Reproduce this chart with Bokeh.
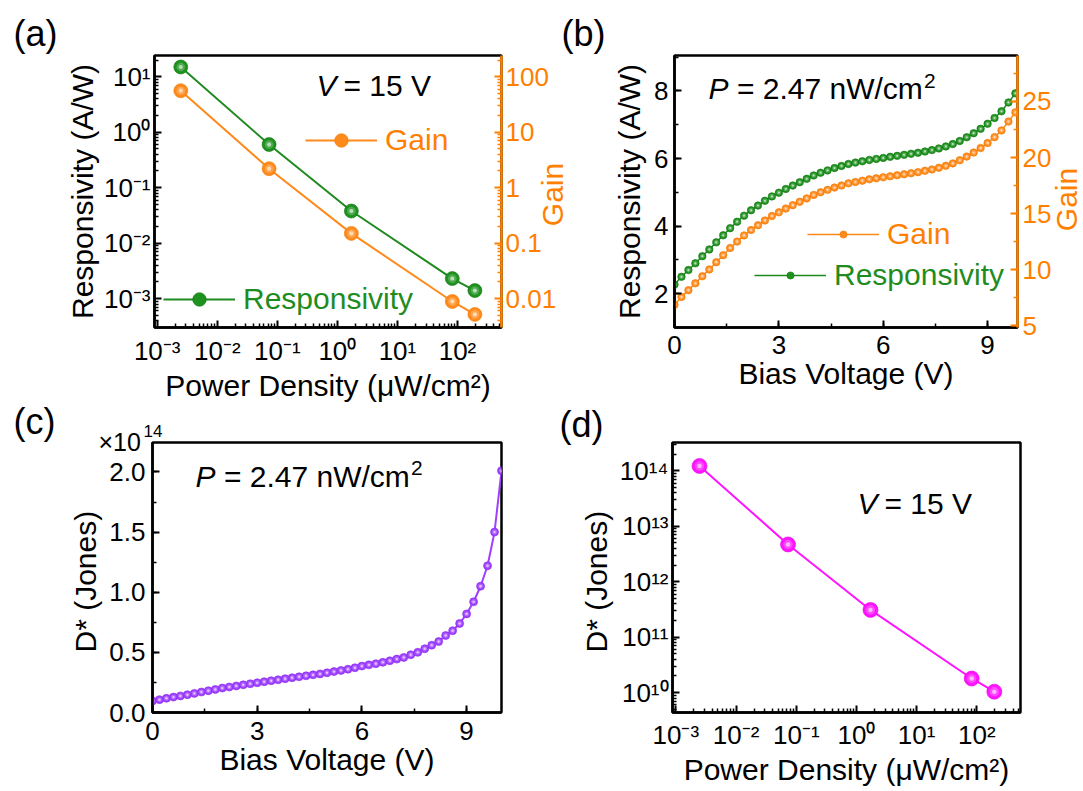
from bokeh.plotting import figure
from bokeh.models import (Range1d, LogScale, LogAxis, LinearAxis, FixedTicker,
                          SingleIntervalTicker, Label, Legend, LegendItem,
                          PrintfTickFormatter)
from bokeh.layouts import row, column
from bokeh.embed import file_html
from bokeh.resources import INLINE

# ------------------------------------------------------------------ data
# panels (a) and (d): V = 15 V, power-density sweep
power_density = [0.00247, 0.073, 1.71, 82.0, 195.0]          # uW/cm^2
responsivity_a = [15.0, 0.60, 0.038, 0.0023, 0.0014]          # A/W
gain_a = [56.0, 2.2, 0.15, 0.0089, 0.0052]
dstar_d = [1.22e14, 4.7e12, 3.1e11, 1.8e10, 1.04e10]         # Jones

# panels (b) and (c): P = 2.47 nW/cm^2, bias sweep
bias_voltage = [0.0, 0.2, 0.4, 0.6, 0.8, 1.0, 1.2, 1.4, 1.6, 1.8,
                2.0, 2.2, 2.4, 2.6, 2.8, 3.0, 3.2, 3.4, 3.6, 3.8,
                4.0, 4.2, 4.4, 4.6, 4.8, 5.0, 5.2, 5.4, 5.6, 5.8,
                6.0, 6.2, 6.4, 6.6, 6.8, 7.0, 7.2, 7.4, 7.6, 7.8,
                8.0, 8.2, 8.4, 8.6, 8.8, 9.0, 9.2, 9.4, 9.6, 9.8, 10.0]
responsivity_b = [2.27, 2.50, 2.70, 2.90, 3.11, 3.31, 3.52, 3.73, 3.94, 4.13,
                  4.31, 4.47, 4.61, 4.75, 4.88, 4.99, 5.10, 5.20, 5.30, 5.40,
                  5.50, 5.58, 5.65, 5.72, 5.78, 5.84, 5.88, 5.92, 5.96, 5.99,
                  6.02, 6.05, 6.08, 6.11, 6.14, 6.17, 6.21, 6.25, 6.30, 6.36,
                  6.43, 6.52, 6.63, 6.75, 6.88, 7.03, 7.20, 7.40, 7.66, 7.93, 8.25]
gain_b = [6.88, 7.58, 8.18, 8.79, 9.42, 10.03, 10.67, 11.30, 11.94, 12.51,
          13.06, 13.54, 13.97, 14.39, 14.79, 15.12, 15.45, 15.76, 16.06, 16.36,
          16.67, 16.91, 17.12, 17.33, 17.51, 17.70, 17.82, 17.94, 18.06, 18.15,
          18.24, 18.33, 18.42, 18.51, 18.60, 18.70, 18.82, 18.94, 19.09, 19.27,
          19.48, 19.76, 20.09, 20.45, 20.85, 21.30, 21.82, 22.42, 23.21, 24.03, 25.0]
dstar_c_e14 = [0.096, 0.107, 0.118, 0.128, 0.138, 0.148, 0.159, 0.170, 0.181, 0.192,
               0.203, 0.212, 0.221, 0.230, 0.239, 0.247, 0.256, 0.264, 0.272, 0.281,
               0.289, 0.297, 0.305, 0.313, 0.321, 0.330, 0.340, 0.350, 0.360, 0.372,
               0.386, 0.396, 0.406, 0.417, 0.430, 0.444, 0.458, 0.480, 0.500, 0.530,
               0.560, 0.590, 0.640, 0.680, 0.740, 0.820, 0.920, 1.050, 1.220, 1.500, 2.010]

# tick values / labels
power_ticks = [0.001, 0.01, 0.1, 1.0, 10.0, 100.0]
power_tick_labels = ["10\u207b\u00b3", "10\u207b\u00b2", "10\u207b\u00b9", "10\u2070", "10\u00b9", "10\u00b2"]
resp_ticks = [0.001, 0.01, 0.1, 1.0, 10.0]
resp_tick_labels = ["10\u207b\u00b3", "10\u207b\u00b2", "10\u207b\u00b9", "10\u2070", "10\u00b9"]
gain_ticks = [0.01, 0.1, 1.0, 10.0, 100.0]
gain_tick_labels = ["0.01", "0.1", "1", "10", "100"]
dstar_ticks = [1e10, 1e11, 1e12, 1e13, 1e14]
dstar_tick_labels = ["10\u00b9\u2070", "10\u00b9\u00b9", "10\u00b9\u00b2", "10\u00b9\u00b3", "10\u00b9\u2074"]

# ------------------------------------------------------------------ style
FONT = "Liberation Sans"
TICK_FS = "26px"
LABEL_FS = "30px"
NOTE_FS = "30px"
SUP_FS = "21px"
PANEL_FS = "36px"
BLACK = "black"
GREEN_LINE, GREEN_BALL, GREEN_EDGE, GREEN_TEXT = "#1f8a1f", "#1e921e", "#127512", "#1f8c1f"
ORANGE_LINE, ORANGE_BALL, ORANGE_EDGE, ORANGE_AX = "#ff8a1c", "#ff8a1c", "#f07800", "#ff8000"
PURPLE, PURPLE_EDGE = "#9e3fff", "#8a2cf0"
MAGENTA, MAGENTA_EDGE = "#ff14ff", "#e000e0"

W, H = 1083, 788


def minor_of(ticks):
    base = [ticks[0] / 10.0] + list(ticks)
    return [m * t for t in base for m in range(2, 10)]


def style_axis(ax, color=BLACK, tick_standoff=5, label_standoff=4):
    ax.axis_line_color = color
    ax.axis_line_width = 2.5
    ax.major_tick_line_color = color
    ax.major_tick_line_width = 2
    ax.minor_tick_line_color = color
    ax.minor_tick_line_width = 1.5
    ax.major_tick_in = 7
    ax.major_tick_out = 0
    ax.minor_tick_in = 4
    ax.minor_tick_out = 0
    ax.major_label_text_font = FONT
    ax.major_label_text_font_size = TICK_FS
    ax.major_label_text_color = color
    ax.major_label_standoff = tick_standoff
    ax.axis_label_text_font = FONT
    ax.axis_label_text_font_size = LABEL_FS
    ax.axis_label_text_font_style = "normal"
    ax.axis_label_text_color = color
    ax.axis_label_standoff = label_standoff


def make_fig(width, height, borders, x_range, y_range, x_type="linear", y_type="linear"):
    left, right, top, bottom = borders
    p = figure(width=width, height=height, x_range=x_range, y_range=y_range,
               x_axis_type=x_type, y_axis_type=y_type, output_backend="svg",
               toolbar_location=None, min_border_left=left, min_border_right=right,
               min_border_top=top, min_border_bottom=bottom)
    p.xgrid.visible = False
    p.ygrid.visible = False
    p.outline_line_color = BLACK
    p.outline_line_width = 2.5
    p.background_fill_color = "white"
    p.border_fill_color = "white"
    return p


def balls(p, x, y, fill, edge, size, **kw):
    # shaded "sphere" markers: base disc + soft lighter core + small highlight
    r = p.scatter(x, y, marker="circle", size=size, fill_color=fill,
                  line_color=edge, line_width=0.6, **kw)
    p.scatter(x, y, marker="circle", size=size * 0.62, fill_color="white",
              fill_alpha=0.22, line_alpha=0, **kw)
    p.scatter(x, y, marker="circle", size=size * 0.3, fill_color="white",
              fill_alpha=0.6, line_alpha=0, **kw)
    return r


def add_text(p, x, y, text, size=NOTE_FS, style="normal", color=BLACK, angle=0,
             align="left"):
    # y is the vertical middle of the text (screen units, from the frame bottom)
    p.add_layout(Label(x=x, y=y, x_units="screen", y_units="screen", text=text,
                       text_font=FONT, text_font_size=size, text_font_style=style,
                       text_color=color, angle=angle, angle_units="deg",
                       text_align=align, text_baseline="middle"))


def add_legend(p, label, renderers, loc, color, gh):
    leg = Legend(items=[LegendItem(label=label, renderers=renderers)], location=loc,
                 orientation="vertical", glyph_width=72, glyph_height=gh, label_height=gh,
                 label_standoff=8, padding=0, margin=0, spacing=0,
                 background_fill_alpha=0, border_line_alpha=0,
                 label_text_font=FONT, label_text_font_size=LABEL_FS,
                 label_text_color=color)
    p.add_layout(leg)


def power_note(p, x, y_mid, y_sup):
    add_text(p, x, y_mid, "P", style="italic")
    add_text(p, x + 28.4, y_mid, "= 2.47 nW/cm")
    add_text(p, x + 28.4 + 187, y_sup, "2", size=SUP_FS)


def volt_note(p, x, y_mid):
    add_text(p, x, y_mid, "V", style="italic")
    add_text(p, x + 27, y_mid, "= 15 V")


# ------------------------------------------------------------------ (a)
pa = make_fig(610, 404, (154, 109, 55, 72),
              Range1d(10 ** -3.045, 10 ** 2.733), Range1d(10 ** -3.52, 10 ** 1.383),
              "log", "log")
pa.extra_y_ranges = {"gain": Range1d(10 ** -2.52, 10 ** 2.383)}
pa.extra_y_scales = {"gain": LogScale()}
ax = pa.xaxis[0]
ax.ticker = FixedTicker(ticks=power_ticks, minor_ticks=minor_of(power_ticks))
ax.major_label_overrides = dict(zip(power_ticks, power_tick_labels))
ax.axis_label = "Power Density (\u03bcW/cm\u00b2)"
style_axis(ax, tick_standoff=8, label_standoff=0)
ay = pa.yaxis[0]
ay.ticker = FixedTicker(ticks=resp_ticks, minor_ticks=minor_of(resp_ticks))
ay.major_label_overrides = dict(zip(resp_ticks, resp_tick_labels))
ay.axis_label = "Responsivity (A/W)"
style_axis(ay, tick_standoff=4, label_standoff=2)
gax = LogAxis(y_range_name="gain",
              ticker=FixedTicker(ticks=gain_ticks, minor_ticks=minor_of(gain_ticks)))
gax.major_label_overrides = dict(zip(gain_ticks, gain_tick_labels))
style_axis(gax, ORANGE_AX, tick_standoff=4)
pa.add_layout(gax, "right")

ra_line = pa.line(power_density, responsivity_a, line_color=GREEN_LINE, line_width=2)
ra_pts = balls(pa, power_density, responsivity_a, GREEN_BALL, GREEN_EDGE, 14)
ga_line = pa.line(power_density, gain_a, line_color=ORANGE_LINE, line_width=2,
                  y_range_name="gain")
ga_pts = balls(pa, power_density, gain_a, ORANGE_BALL, ORANGE_EDGE, 14,
               y_range_name="gain")
add_legend(pa, "Gain", [ga_line, ga_pts], (151, 170), ORANGE_AX, 34)
add_legend(pa, "Responsivity", [ra_line, ra_pts], (9, 11), GREEN_TEXT, 34)
volt_note(pa, 162, 242.5)

# ------------------------------------------------------------------ (b)
pb = make_fig(473, 404, (62, 66, 53, 74), Range1d(0, 9.86), Range1d(1, 9.05))
pb.extra_y_ranges = {"gain": Range1d(4.85, 29.1)}
bx = pb.xaxis[0]
bx.ticker = SingleIntervalTicker(interval=3, num_minor_ticks=2)
bx.axis_label = "Bias Voltage (V)"
style_axis(bx, tick_standoff=8, label_standoff=0)
by = pb.yaxis[0]
by.ticker = SingleIntervalTicker(interval=2, num_minor_ticks=2)
by.axis_label = "Responsivity (A/W)"
style_axis(by, tick_standoff=6, label_standoff=5)
gbx = LinearAxis(y_range_name="gain", ticker=SingleIntervalTicker(interval=5, num_minor_ticks=2))
style_axis(gbx, ORANGE_AX, tick_standoff=5)
pb.add_layout(gbx, "right")

rb_line = pb.line(bias_voltage, responsivity_b, line_color=GREEN_LINE, line_width=1.5)
rb_pts = balls(pb, bias_voltage, responsivity_b, GREEN_BALL, GREEN_EDGE, 7.5)
gb_line = pb.line(bias_voltage, gain_b, line_color=ORANGE_LINE, line_width=1.5,
                  y_range_name="gain")
gb_pts = balls(pb, bias_voltage, gain_b, ORANGE_BALL, ORANGE_EDGE, 7.5,
               y_range_name="gain")
add_legend(pb, "Gain", [gb_line, gb_pts], (133, 76), ORANGE_AX, 18)
add_legend(pb, "Responsivity", [rb_line, rb_pts], (80, 35), GREEN_TEXT, 18)
power_note(pb, 34, 239.5, 246.4)

# ------------------------------------------------------------------ (c)
pc = make_fig(556, 384, (152, 55, 38, 72), Range1d(0, 10), Range1d(0, 2.245))
cx = pc.xaxis[0]
cx.ticker = SingleIntervalTicker(interval=3, num_minor_ticks=2)
cx.axis_label = "Bias Voltage (V)"
style_axis(cx, tick_standoff=9, label_standoff=0)
cy = pc.yaxis[0]
cy.ticker = SingleIntervalTicker(interval=0.5, num_minor_ticks=2)
cy.formatter = PrintfTickFormatter(format="%.1f")
cy.axis_label = "D*  (Jones)"
style_axis(cy, tick_standoff=7, label_standoff=4)
pc.line(bias_voltage, dstar_c_e14, line_color=PURPLE, line_width=2)
balls(pc, bias_voltage, dstar_c_e14, PURPLE, PURPLE_EDGE, 8)
power_note(pc, 43, 236.1, 244.7)

# ------------------------------------------------------------------ (d)
pd = make_fig(527, 384, (116, 63, 38, 70),
              Range1d(10 ** -3.056, 10 ** 2.725), Range1d(10 ** 9.642, 10 ** 14.51),
              "log", "log")
dx = pd.xaxis[0]
dx.ticker = FixedTicker(ticks=power_ticks, minor_ticks=minor_of(power_ticks))
dx.major_label_overrides = dict(zip(power_ticks, power_tick_labels))
dx.axis_label = "Power Density (\u03bcW/cm\u00b2)"
style_axis(dx, tick_standoff=7, label_standoff=0)
dy = pd.yaxis[0]
dy.ticker = FixedTicker(ticks=dstar_ticks, minor_ticks=minor_of(dstar_ticks))
dy.major_label_overrides = dict(zip(dstar_ticks, dstar_tick_labels))
dy.axis_label = "D*  (Jones)"
style_axis(dy, tick_standoff=4, label_standoff=4)
pd.line(power_density, dstar_d, line_color=MAGENTA, line_width=2)
balls(pd, power_density, dstar_d, MAGENTA, MAGENTA_EDGE, 15)
volt_note(pd, 185, 209.3)

# ------------------------------------------------------------------ overlay for free texts
ov = figure(width=W, height=H, x_range=Range1d(0, W), y_range=Range1d(0, H),
            output_backend="svg", toolbar_location=None, min_border=0,
            x_axis_location=None, y_axis_location=None, title=None)
ov.xgrid.visible = False
ov.ygrid.visible = False
ov.outline_line_color = None
ov.background_fill_alpha = 0
ov.border_fill_alpha = 0
ov.margin = (-H, 0, 0, 0)
add_text(ov, 13, H - 32.5, "(a)", size=PANEL_FS)
add_text(ov, 561, H - 32.5, "(b)", size=PANEL_FS)
add_text(ov, 13, H - 420.5, "(c)", size=PANEL_FS)
add_text(ov, 559, H - 423.5, "(d)", size=PANEL_FS)
add_text(ov, 98, H - 441.5, "\u00d710", size="25px")
add_text(ov, 143, H - 430, "14", size="17px")
add_text(ov, 552, H - 194, "Gain", size=LABEL_FS, color=ORANGE_AX, angle=90, align="center")
add_text(ov, 1066, H - 199, "Gain", size=LABEL_FS, color=ORANGE_AX, angle=90, align="center")

layout = column(row(pa, pb), row(pc, pd), ov)
open("out.html", "w").write(file_html(layout, INLINE))
